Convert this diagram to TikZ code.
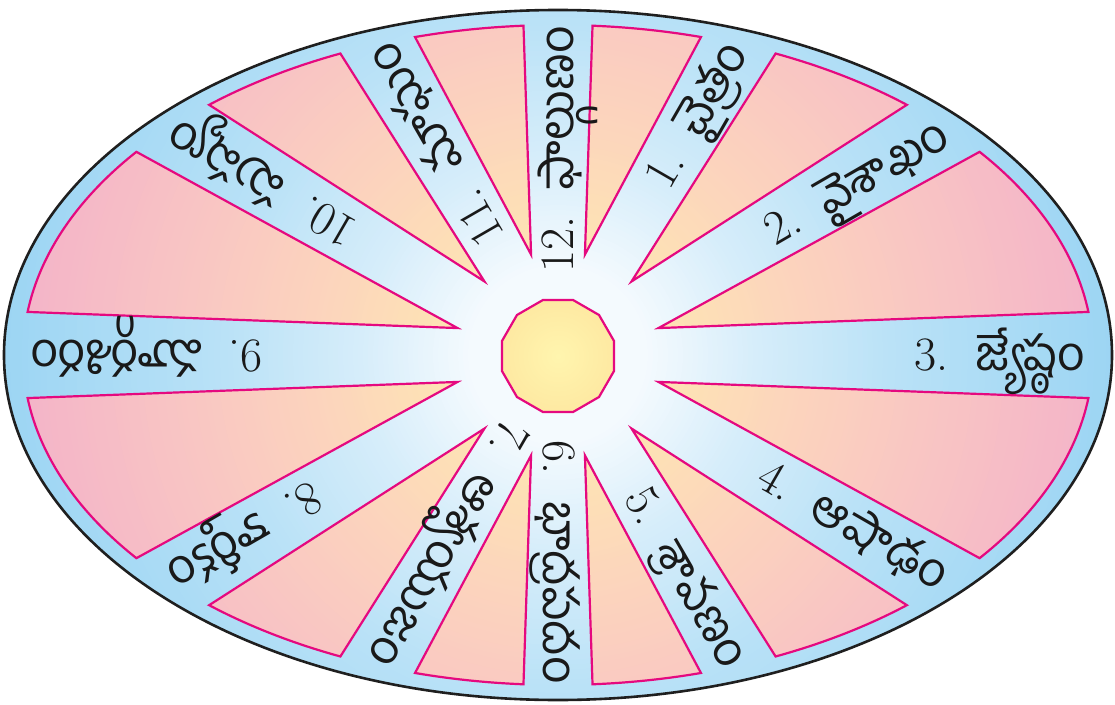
\documentclass[tikz,border=0pt]{standalone}
\usepackage{fontspec}
\usetikzlibrary{shapes.geometric}
\newfontfamily\telugu[Script=Telugu]{Hind Guntur}
\definecolor{bgA}{HTML}{F4FAFE}
\definecolor{bgB}{HTML}{D6EDFA}
\definecolor{bgC}{HTML}{BAE2F7}
\definecolor{bgD}{HTML}{9CD5F3}
\definecolor{wA}{HTML}{FEE5B3}
\definecolor{wB}{HTML}{FCD4BD}
\definecolor{wC}{HTML}{F8C3C4}
\definecolor{wD}{HTML}{F3B2C9}
\definecolor{mag}{HTML}{E5097F}
\definecolor{sunA}{HTML}{FFF5AE}
\definecolor{sunB}{HTML}{FEE9A2}
\newcommand\wedgeshape[3]{(#1:104) -- ({535*cos(#2)},{330*sin(#2)}) arc[start angle=#2, end angle=#3, x radius=535pt, y radius=330pt] -- cycle}
\begin{document}
\begin{tikzpicture}[x=1pt,y=1pt,
  wedgeline/.style={draw=mag, line width=2.2pt, line join=miter},
  lbl/.style={inner sep=0pt, font=\fontsize{48}{50}\selectfont, text=black!90},
]
\useasboundingbox (-558,-349) rectangle (557,355);
% background ellipse, radial colour
\begin{scope}
  \clip (0,0) ellipse [x radius=554pt, y radius=345pt];
  \foreach \rr in {560,554,...,335}{\pgfmathtruncatemacro\pp{(\rr-335)/2.25}\fill[bgD!\pp!bgC] (0,0) circle (\rr pt);}
  \foreach \rr in {335,330,...,200}{\pgfmathtruncatemacro\pp{(\rr-200)/1.35}\fill[bgC!\pp!bgB] (0,0) circle (\rr pt);}
  \foreach \rr in {200,195,...,90}{\pgfmathtruncatemacro\pp{(\rr-90)/1.1}\fill[bgB!\pp!bgA] (0,0) circle (\rr pt);}
\end{scope}
\draw[line width=2.6pt, black!88] (0,0) ellipse [x radius=554pt, y radius=345pt];
% wedge fills
\begin{scope}
  \clip
    \wedgeshape{15}{7.5}{38} \wedgeshape{45}{49.3}{66} \wedgeshape{75}{74.5}{86.3}
    \wedgeshape{105}{93.7}{105.5} \wedgeshape{135}{114}{130.7} \wedgeshape{165}{142}{172.5}
    \wedgeshape{195}{187.5}{218} \wedgeshape{225}{229.3}{246} \wedgeshape{255}{254.5}{266.3}
    \wedgeshape{285}{273.7}{285.5} \wedgeshape{315}{294}{310.7} \wedgeshape{345}{322}{352.5};
  \foreach \rr in {560,554,...,400}{\pgfmathtruncatemacro\pp{(\rr-400)/1.6}\fill[wD!\pp!wC] (0,0) circle (\rr pt);}
  \foreach \rr in {400,395,...,245}{\pgfmathtruncatemacro\pp{(\rr-245)/1.55}\fill[wC!\pp!wB] (0,0) circle (\rr pt);}
  \foreach \rr in {245,240,...,100}{\pgfmathtruncatemacro\pp{(\rr-100)/1.45}\fill[wB!\pp!wA] (0,0) circle (\rr pt);}
\end{scope}
% wedge outlines
\foreach \sx/\sy in {1/1,-1/1,1/-1,-1/-1}{
  \begin{scope}[xscale=\sx, yscale=\sy]
    \draw[wedgeline] \wedgeshape{75}{74.5}{86.3};
    \draw[wedgeline] \wedgeshape{45}{49.3}{66};
    \draw[wedgeline] \wedgeshape{15}{7.5}{38};
  \end{scope}
}
\node (sun) [regular polygon, regular polygon sides=12, minimum size=116pt,
  inner sep=0pt, draw=mag, line width=2.2pt, shade, inner color=sunA, outer color=sunB] at (0,-1) {};
\foreach \ang/\rr/\num/\word in {
  0/527/3/జ్యేష్ఠం, 30/447/2/వైశాఖం, 60/357/1/చైత్రం, 90/329/12/ఫాల్గుణం,
  120/357/11/మాఘం, 150/447/10/పుష్యం, 180/527/9/మార్గశిరం, 210/447/8/కార్తీకం,
  240/357/7/ఆశ్వయుజం, 270/329/6/భాద్రపదం, 300/357/5/శ్రావణం, 330/447/4/ఆషాఢం}
  \node[lbl, rotate=\ang, anchor=base east] (m\num)
    at ({\rr*cos(\ang)+15*sin(\ang)},{\rr*sin(\ang)-15*cos(\ang)})
    {\num.\hspace{0.55em}{\telugu\word}};
\end{tikzpicture}
\end{document}
